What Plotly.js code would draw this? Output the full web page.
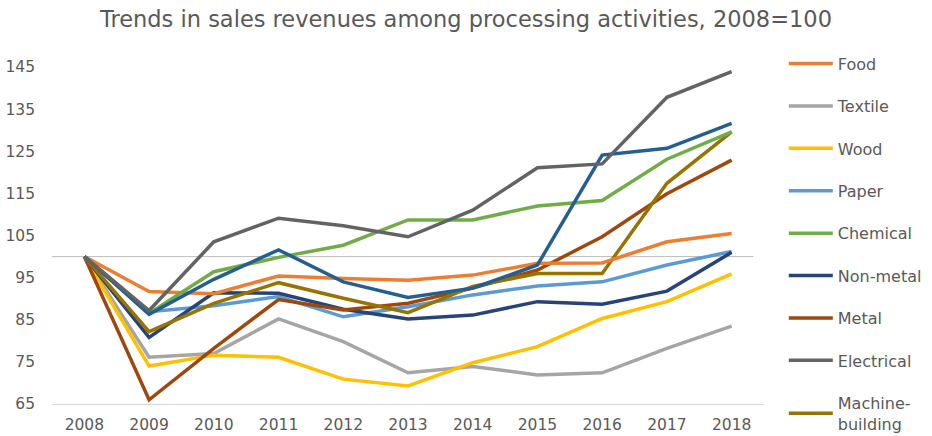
<!DOCTYPE html>
<html>
<head>
<meta charset="utf-8">
<script src="https://cdn.plot.ly/plotly-3.0.1.min.js"></script>
<style>html,body{margin:0;padding:0;background:#fff;}#chart{width:932px;height:436px;}</style>
</head>
<body>
<div id="chart"></div>
<script>
const years = ["2008","2009","2010","2011","2012","2013","2014","2015","2016","2017","2018"];
const food       = [100, 91.7, 91.2, 95.4, 94.8, 94.4, 95.6, 98.4, 98.5, 103.5, 105.5];
const textile    = [100, 76.1, 77.0, 85.2, 79.8, 72.4, 73.9, 71.9, 72.4, 78.2, 83.5];
const wood       = [100, 74.0, 76.6, 76.1, 70.9, 69.3, 74.8, 78.6, 85.3, 89.3, 95.9];
const paper      = [100, 86.9, 88.3, 90.5, 85.7, 88.1, 90.9, 93.0, 94.0, 98.0, 101.2];
const chemical   = [100, 86.5, 96.4, 99.8, 102.7, 108.7, 108.7, 112.0, 113.3, 123.1, 129.6];
const nonmetal   = [100, 80.8, 91.4, 91.3, 87.5, 85.2, 86.1, 89.3, 88.7, 91.8, 101.0];
const metal      = [100, 66.0, 78.2, 89.8, 87.3, 88.9, 92.5, 96.8, 104.7, 114.9, 122.9];
const electrical = [100, 87.2, 103.5, 109.1, 107.3, 104.7, 111.0, 121.1, 122.0, 137.8, 143.9];
const machine    = [100, 82.2, 88.9, 93.8, 90.1, 86.7, 92.9, 96.0, 96.0, 117.4, 129.6];
const transport  = [100, 86.3, 94.6, 101.6, 94.0, 90.3, 92.5, 98.0, 124.1, 125.7, 131.6];
const yTicks = [65, 75, 85, 95, 105, 115, 125, 135, 145];
const baseValue = 100;

const series = [
  {name: "Food", y: food, color: "#ED7D31"},
  {name: "Textile", y: textile, color: "#A5A5A5"},
  {name: "Wood", y: wood, color: "#FFC000"},
  {name: "Paper", y: paper, color: "#5B9BD5"},
  {name: "Chemical", y: chemical, color: "#70AD47"},
  {name: "Non-metal", y: nonmetal, color: "#264478"},
  {name: "Metal", y: metal, color: "#9E480E"},
  {name: "Electrical", y: electrical, color: "#636363"},
  {name: "Machine-<br>building", y: machine, color: "#997300"},
  {name: "Transport", y: transport, color: "#255E91", hide: true}
];

const drawOrder = [1,2,3,5,6,8,0,4,9,7];
const traces = drawOrder.map(i => {
  const s = series[i];
  return {
    type: "scatter", mode: "lines", x: years, y: s.y, name: s.name,
    line: {color: s.color, width: 3.5},
    showlegend: !s.hide,
    legendgroup: "g" + i,
    legendrank: i + 1,
    hoverinfo: "skip"
  };
});

const layout = {
  width: 932, height: 436,
  margin: {l: 52, r: 168, t: 67, b: 32, autoexpand: false},
  paper_bgcolor: "#fff", plot_bgcolor: "#fff",
  font: {family: "DejaVu Sans, sans-serif", color: "#595959", size: 15},
  title: {text: "Trends in sales revenues among processing activities, 2008=100",
          font: {size: 22.5, color: "#595959"}, x: 0.5, xanchor: "center", y: 0.955, yanchor: "middle"},
  xaxis: {type: "category", range: [-0.5, 10.5], showgrid: false, zeroline: false,
          showline: true, linecolor: "#D9D9D9", linewidth: 1, ticks: "", ticklabelstandoff: 6,
          tickfont: {size: 15.5, color: "#595959"}, fixedrange: true},
  yaxis: {range: [65, 145], tickvals: yTicks, showgrid: false, zeroline: false, showline: false,
          ticks: "", ticklabelstandoff: 16, tickfont: {size: 15.5, color: "#595959"}, fixedrange: true},
  shapes: [{type: "line", xref: "paper", yref: "y", x0: 0, x1: 0.985, y0: baseValue, y1: baseValue,
            line: {color: "#BFBFBF", width: 1}, layer: "below"}],
  legend: {xref: "container", yref: "container", x: 0.841, xanchor: "left", y: 0.893, yanchor: "top",
           traceorder: "grouped", tracegroupgap: 18.6, font: {size: 16, color: "#595959"}, itemwidth: 44,
           bgcolor: "rgba(0,0,0,0)", maxheight: 436},
  showlegend: true
};

Plotly.newPlot("chart", traces, layout, {displayModeBar: false, staticPlot: true});
</script>
</body>
</html>
